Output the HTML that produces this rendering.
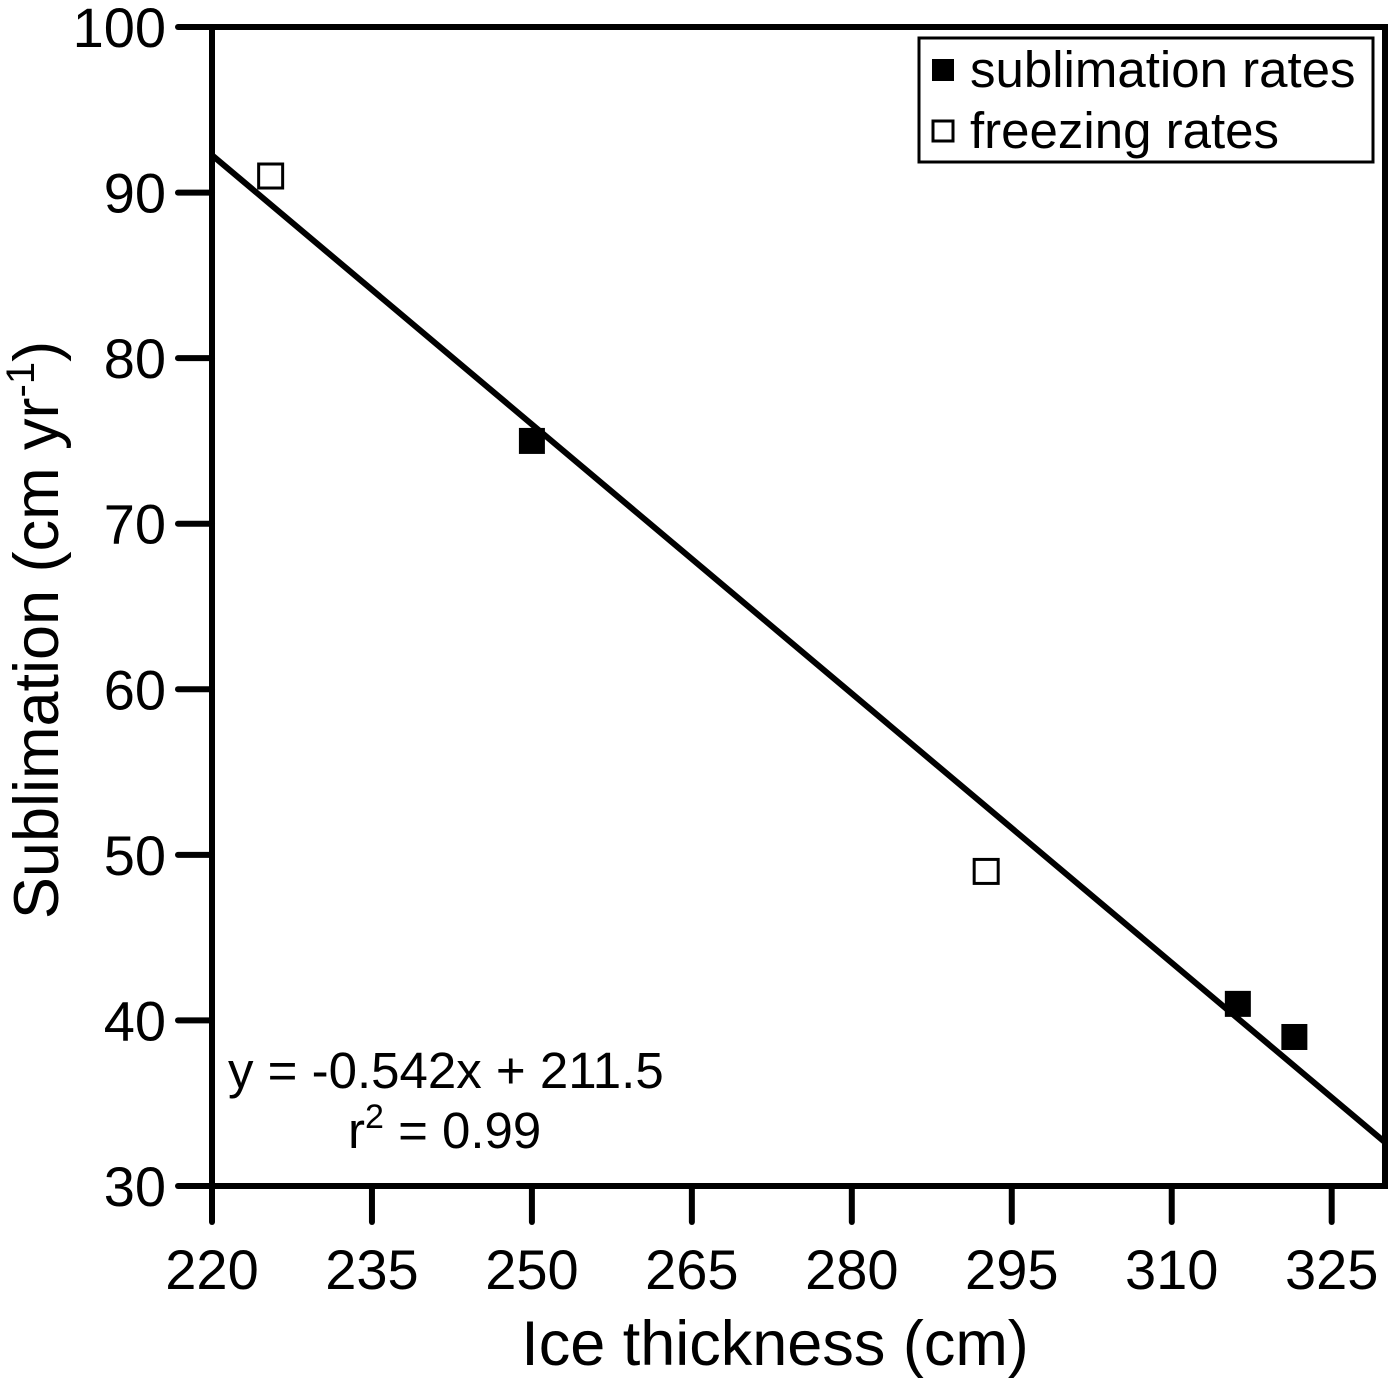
<!DOCTYPE html>
<html><head><meta charset="utf-8"><style>
body{margin:0;background:#fff}
svg text{font-family:"Liberation Sans",Arial,sans-serif;fill:#000}
</style></head><body>
<svg id="chart" width="1400" height="1386" xmlns="http://www.w3.org/2000/svg">
<g id="ticks"></g>
<g id="marks"></g>
<rect x="212" y="27" width="1173" height="1159" fill="none" stroke="#000" stroke-width="6"/>
<text x="775" y="1365" font-size="63" text-anchor="middle">Ice thickness (cm)</text>
<text transform="translate(58,630) rotate(-90)" font-size="63" text-anchor="middle">Sublimation (cm yr<tspan font-size="40" dy="-24">-1</tspan><tspan dy="24">)</tspan></text>
<g>
<rect x="919" y="38" width="454" height="124" fill="#fff" stroke="#000" stroke-width="3"/>
<rect x="932" y="59" width="22" height="22" fill="#000"/>
<text x="970" y="87" font-size="51">sublimation rates</text>
<rect x="933" y="121" width="20" height="20" fill="#fff" stroke="#000" stroke-width="3"/>
<text x="970" y="148" font-size="51">freezing rates</text>
</g>
<text x="228" y="1088" font-size="51">y = -0.542x + 211.5</text>
<text x="348" y="1148" font-size="51">r<tspan font-size="34" dy="-20">2</tspan><tspan dy="20"> = 0.99</tspan></text>
</svg>
<script>
const xTicks=[220,235,250,265,280,295,310,325];
const yTicks=[30,40,50,60,70,80,90,100];
const sublX=[250,316.2,321.5];
const sublY=[75,41,39];
const freezeX=[225.5,292.6];
const freezeY=[91,49];
const slope=-0.542, intercept=211.5;
const X=v=>212+(v-220)*(1173/110);
const Y=v=>1186-(v-30)*(1159/70);
const NS="http://www.w3.org/2000/svg";
const tg=document.getElementById('ticks'), mg=document.getElementById('marks');
function mk(t,a,p){const e=document.createElementNS(NS,t);for(const k in a)e.setAttribute(k,a[k]);p.appendChild(e);return e;}
xTicks.forEach(v=>{
 const l=mk('line',{x1:X(v),x2:X(v),y1:1186,y2:1222,stroke:'#000','stroke-width':6,'stroke-linecap':'round'},tg);
 
 
 const t=mk('text',{x:X(v),y:1289,'font-size':56,'text-anchor':'middle'},tg);t.textContent=v;
 
 
});
yTicks.forEach(v=>{
 const l=mk('line',{x1:178,x2:212,y1:Y(v),y2:Y(v),stroke:'#000','stroke-width':6,'stroke-linecap':'round'},tg);
 
 
 const t=mk('text',{x:166,y:Y(v)+20,'font-size':56,'text-anchor':'end'},tg);t.textContent=v;
 
 
});
const fl=mk('line',{x1:X(220),y1:Y(slope*220+intercept),x2:X(330),y2:Y(slope*330+intercept),stroke:'#000','stroke-width':6},mg);


sublX.forEach((v,i)=>{
 const r=mk('rect',{x:X(v)-13,y:Y(sublY[i])-13,width:26,height:26,fill:'#000'},mg);
 
 
});
freezeX.forEach((v,i)=>{
 const r=mk('rect',{x:X(v)-12,y:Y(freezeY[i])-12,width:24,height:24,fill:'#fff',stroke:'#000','stroke-width':3},mg);
 
 
});
</script>
</body></html>
